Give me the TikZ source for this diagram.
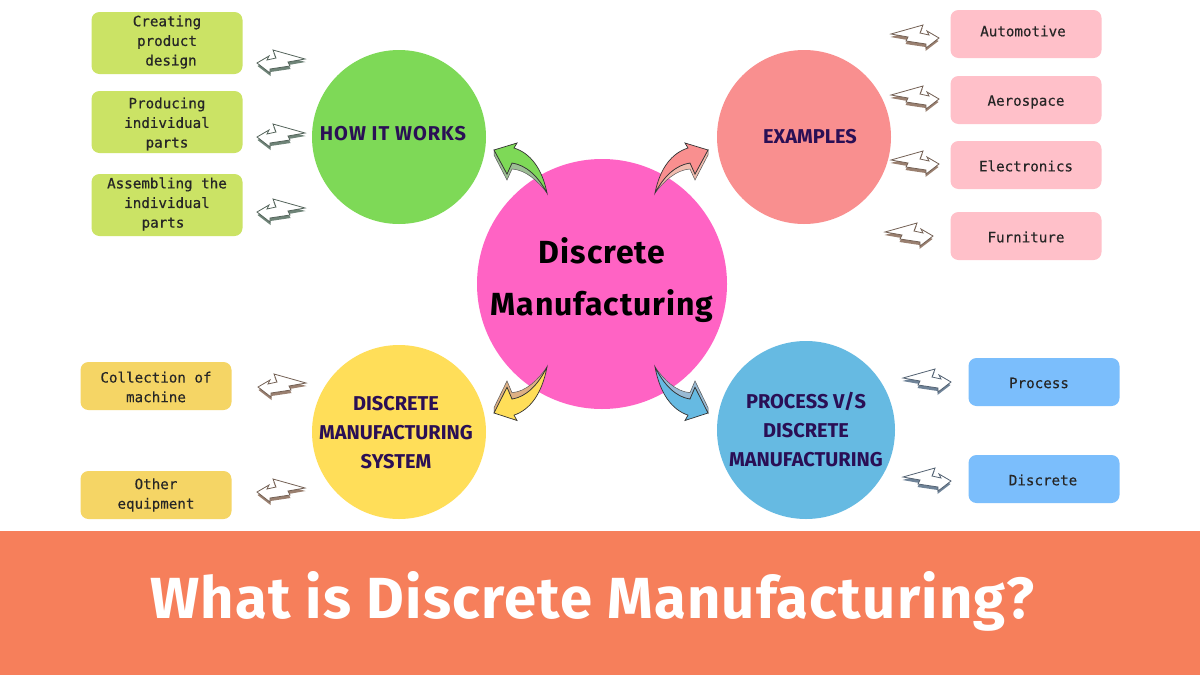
\documentclass[tikz,border=0pt]{standalone}
\usepackage{fontspec}
\setmainfont{Fira Sans}
\newfontfamily\monof{DejaVu Sans Mono}[FakeBold=0.25]
\newfontfamily\monobf{DejaVu Sans Mono}[FakeBold=0.7]
\newfontfamily\handf{Fira Sans}[UprightFont=*-Bold]
\newfontfamily\bigf{Fira Sans}[UprightFont=*-Bold,LetterSpace=2.9]
\newfontfamily\howf{Fira Sans}[UprightFont=*-Bold,LetterSpace=5]
\newfontfamily\titlef{Fira Sans}[UprightFont=*-Bold,LetterSpace=2.2]
\definecolor{ink}{HTML}{2A0F55}
\definecolor{cg}{HTML}{7ED957}\definecolor{cr}{HTML}{F98F8F}\definecolor{cy}{HTML}{FFDE59}\definecolor{cb}{HTML}{66BAE2}
\definecolor{lg}{HTML}{CBE365}\definecolor{lp}{HTML}{FFC0C9}\definecolor{ly}{HTML}{F5D565}\definecolor{lb}{HTML}{7BBEFC}
\definecolor{zg}{HTML}{6F8478}\definecolor{zb}{HTML}{9A8070}\definecolor{zu}{HTML}{6F8398}
\definecolor{xg}{HTML}{9CBE94}\definecolor{xr}{HTML}{F0BCAE}\definecolor{xy}{HTML}{DDB084}\definecolor{xb}{HTML}{98BAD4}
\newcommand{\zigpath}{(0,0)--(12,-7)--(10,-3)--(19,-5)--(16,-13)--(48,-4)--(31,-1)--(33,3)--(13,6)--(13,10)--cycle}
\newcommand{\curvepath}{(0,0)--(23,-7)--(20,-2) .. controls (36,3) and (48,18) .. (53,43) .. controls (44,26) and (32,15) .. (18,13)--(13,24)--cycle}
\newcommand{\bandpath}{(0,0)--(0,5)--(13,30)--(18,19) .. controls (32,20) and (44,31) .. (53,43) .. controls (44,26) and (32,15) .. (18,13)--(13,24)--cycle}
\begin{document}
\begin{tikzpicture}[x=1pt,y=-1pt,
  bubble/.style={circle,inner sep=0pt,minimum size=#1},
  lab/.style={font=\handf\fontsize{20}{29}\selectfont,text=ink,align=center},
  item/.style={rounded corners=8pt,minimum width=151pt,minimum height=#1,inner sep=0pt},
  itemtext/.style={align=center,font=\monof\fontsize{14.2}{19.6}\selectfont,text=black!85,inner sep=0pt},
  itembold/.style={itemtext,font=\monobf\fontsize{14.2}{19.6}\selectfont},
  zig/.pic={
    \fill[#1,shift={(0.5,3)}] \zigpath;
    \fill[white,draw=#1!75!black,line width=.8pt] \zigpath;
  },
  curve/.pic={
    \fill[#1,draw=black!65,line width=.5pt] \bandpath;
  },
  curvetop/.pic={
    \fill[#1,draw=black!80,line width=.7pt] \curvepath;
  }]
\useasboundingbox (0,0) rectangle (1200,675);
\fill[white] (0,0) rectangle (1200,675);
\node[bubble=250pt,fill={rgb,255:red,255;green,99;blue,196}] (main) at (602,284) {};
\node[font=\bigf\fontsize{32}{52}\selectfont,text=black,align=center] (mainT) at (602,280) {Discrete\\Manufacturing};
\node[bubble=174pt,fill=cg] (how) at (399,137) {};
\node[bubble=174pt,fill=cr] (ex) at (804,137) {};
\node[bubble=174pt,fill=cy] (sys) at (399,432) {};
\node[bubble=178pt,fill=cb] (pv) at (806,430) {};
\node[lab,font=\howf\fontsize{20}{29}\selectfont] (howT) at (393,134) {HOW IT WORKS};
\node[lab] (exT) at (810,137) {EXAMPLES};
\node[lab] (sysT) at (396,433) {DISCRETE\\MANUFACTURING\\SYSTEM};
\node[lab] (pvT) at (806,430) {PROCESS V/S\\DISCRETE\\MANUFACTURING};
\node[item=62pt,fill=lg] (a1) at (167,43) {};
\node[item=62pt,fill=lg] (a2) at (167,122) {};
\node[item=62pt,fill=lg] (a3) at (167,205) {};
\node[item=48pt,fill=lp] (b1) at (1026,34) {};
\node[item=48pt,fill=lp] (b2) at (1026,100) {};
\node[item=48pt,fill=lp] (b3) at (1026,165) {};
\node[item=48pt,fill=lp] (b4) at (1026,236) {};
\node[item=48pt,fill=ly] (c1) at (156,386) {};
\node[item=48pt,fill=ly] (c2) at (156,495) {};
\node[item=48pt,fill=lb] (d1) at (1044,382) {};
\node[item=48pt,fill=lb] (d2) at (1044,479) {};
\node[itembold] (a1t) at (167,42) {Creating\\product\\\hspace*{8pt}design};
\node[itembold] (a2t) at (167,124) {Producing\\individual\hspace*{8pt}\\parts};
\node[itembold] (a3t) at (167,204) {Assembling the\\individual\hspace*{8pt}\\parts\hspace*{8pt}};
\node[itemtext] (b1t) at (1023,31) {Automotive};
\node[itemtext] (b2t) at (1026,102) {Aerospace};
\node[itemtext] (b3t) at (1026,166) {Electronics};
\node[itemtext] (b4t) at (1026,237) {Furniture};
\node[itemtext] (c1t) at (156,387) {Collection of\\machine};
\node[itemtext] (c2t) at (156,495) {Other\\equipment};
\node[itemtext] (d1t) at (1039,383) {Process};
\node[itemtext] (d2t) at (1043,480) {Discrete};
\pic at (257,63) {zig=zg};
\pic at (257,137) {zig=zg};
\pic at (257,212) {zig=zg};
\pic at (258,387) {zig=zb};
\pic at (257,492) {zig=zb};
\pic[xscale=-1] at (939,38) {zig=zb};
\pic[xscale=-1] at (939,99) {zig=zb};
\pic[xscale=-1] at (939,164) {zig=zb};
\pic[xscale=-1] at (933,236) {zig=zb};
\pic[xscale=-1] at (951,382) {zig=zu};
\pic[xscale=-1] at (951,481) {zig=zu};
\pic at (494,150) {curve=xg};
\pic at (494,150) {curvetop=cg};
\pic[xscale=-1] at (708,150) {curve=xr};
\pic[xscale=-1] at (708,150) {curvetop=cr};
\pic[yscale=-1.07] at (494,413) {curve=xy};
\pic[yscale=-1.07] at (494,413) {curvetop=cy};
\pic[xscale=-1,yscale=-1.07] at (708,413) {curve=xb};
\pic[xscale=-1,yscale=-1.07] at (708,413) {curvetop=cb};
\fill[fill={rgb,255:red,246;green,127;blue,91}] (0,531) rectangle (1200,675);
\node[font=\titlef\fontsize{58}{60}\selectfont,text=white] (title) at (592,601) {What is Discrete Manufacturing?};
\end{tikzpicture}
\end{document}
